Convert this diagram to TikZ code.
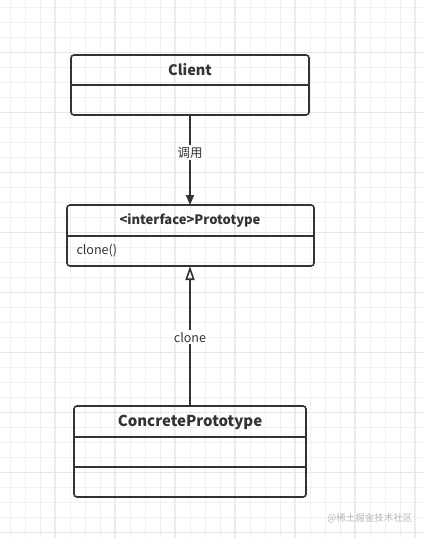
\documentclass[tikz,border=0pt]{standalone}
\usepackage{fontspec}
\setmainfont{Noto Sans CJK SC}
\usetikzlibrary{arrows.meta}
\definecolor{ink}{HTML}{333333}
\definecolor{gridminor}{HTML}{F0F0F0}
\definecolor{gridmajor}{HTML}{E6E6E6}
\tikzset{
  umlbox/.style={draw=ink, line width=1.6pt, rounded corners=3pt},
  divider/.style={draw=ink, line width=1.6pt},
  conn/.style={draw=ink, line width=1.6pt},
  title/.style={font=\fontsize{14.5}{17}\selectfont\bfseries, text=ink},
  member/.style={font=\fontsize{12.5}{15}\selectfont, text=ink, anchor=west},
  lbl/.style={font=\fontsize{12.5}{15}\selectfont, text=ink, fill=white, inner sep=2pt},
}
\begin{document}
\begin{tikzpicture}[x=1pt,y=-1pt]
\useasboundingbox (0,0) rectangle (423,538);
\fill[white] (0,0) rectangle (423,538);
% grid
\foreach \gx in {10,25,...,423} {\draw[gridminor, line width=0.8pt] (\gx,0) -- (\gx,538);}
\foreach \gy in {7,22,...,538} {\draw[gridminor, line width=0.8pt] (0,\gy) -- (423,\gy);}
\foreach \gx in {54,114,...,423} {\draw[gridmajor, line width=0.8pt] (\gx,0) -- (\gx,538);}
\foreach \gy in {52,112,...,538} {\draw[gridmajor, line width=0.8pt] (0,\gy) -- (423,\gy);}
% Client
\draw[umlbox] (71,55) rectangle (309,115);
\draw[divider] (71,85) -- (309,85);
\node[title] (client) at (190,70) {Client};
\coordinate (clientB) at (190,115);
% Prototype
\draw[umlbox] (67,205) rectangle (314,266);
\draw[divider] (67,236) -- (314,236);
\node[title, font=\fontsize{13}{15}\selectfont\bfseries] (proto) at (190,221) {<interface>Prototype};
\node[member] (clone) at (73,251) {clone()};
\coordinate (protoT) at (190,205);
\coordinate (protoB) at (190,266);
% ConcretePrototype
\draw[umlbox] (74,406) rectangle (306,497);
\draw[divider] (74,437) -- (306,437);
\draw[divider] (74,467) -- (306,467);
\node[title, font=\fontsize{15}{17}\selectfont\bfseries] (concrete) at (190,422) {ConcretePrototype};
\coordinate (concT) at (190,406);
% connectors
\draw[conn, -{Triangle[length=10pt,width=8pt]}] (clientB) -- node[lbl, pos=0.42] (l1) {调用} (protoT);
\draw[conn, -{Triangle[open,length=14pt,width=9pt,line width=1.6pt]}] (concT) -- node[lbl, pos=0.49] (l2) {clone} (protoB);
% watermark
\node[font=\fontsize{9.5}{11}\selectfont, text=black!28, anchor=east] (wm) at (416,518) {@稀土掘金技术社区};
\end{tikzpicture}
\end{document}
